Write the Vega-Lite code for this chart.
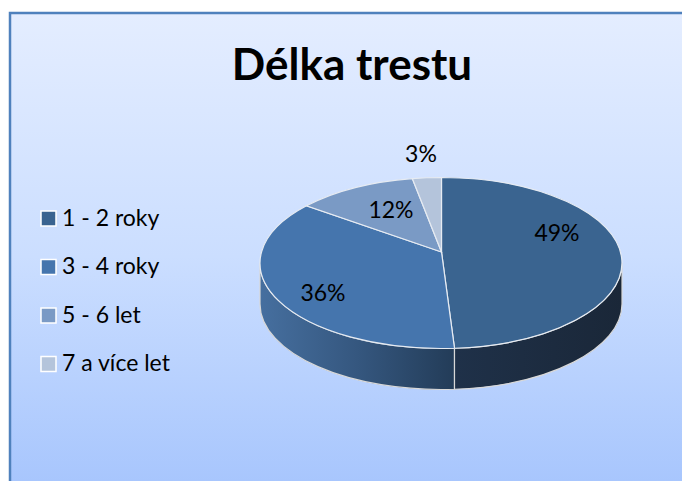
{
"$schema":"https://vega.github.io/schema/vega-lite/v6.json",
"width":682,"height":481,"padding":0,
"autosize":{"type":"fit","contains":"padding"},
"background":"white",
"config":{"view":{"stroke":null},"font":"Lato"},
"title":{"text":"Délka trestu","font":"Lato","fontWeight":"bold","fontSize":44,"color":"#000000","anchor":"middle","frame":"group","offset":-124,"baseline":"alphabetic","dx":11},
"data":{"values":[
{"kategorie":"1 - 2 roky","podil":49},
{"kategorie":"3 - 4 roky","podil":36},
{"kategorie":"5 - 6 let","podil":12},
{"kategorie":"7 a více let","podil":3}
]},
"resolve":{"scale":{"x":"independent","y":"independent"}},
"layer":[
{"data":{"values":[{}]},
 "mark":{"type":"rect","clip":true,"stroke":"#4f81bd","strokeWidth":2.5,"fill":{"gradient":"linear","x1":0,"y1":0,"x2":0,"y2":1,"stops":[{"offset":0,"color":"#e4edff"},{"offset":0.5,"color":"#cbdeff"},{"offset":1,"color":"#a5c4fd"}]}},
 "encoding":{
  "x":{"datum":10,"type":"quantitative","scale":{"domain":[0,682],"range":[0,682]},"axis":null},
  "x2":{"datum":720},
  "y":{"datum":13,"type":"quantitative","scale":{"domain":[0,481],"range":[0,481]},"axis":null},
  "y2":{"datum":500}}},
{"transform":[{"filter":"datum.kategorie === '3 - 4 roky'"}],
 "mark":{"type":"point","filled":true,"opacity":1,"size":4,"stroke":"#d8d8d8","strokeWidth":1.2,
  "shape":"M-181,0 A181,85.5 0 0 0 13.5,85.26 L13.5,126.26 A181,85.5 0 0 1 -181,41 Z",
  "fill":{"gradient":"linear","x1":0,"y1":0,"x2":1,"y2":0,"stops":[{"offset":0,"color":"#466f9f"},{"offset":0.5,"color":"#35577f"},{"offset":1,"color":"#233c58"}]}},
 "encoding":{
  "x":{"datum":441,"type":"quantitative","scale":{"domain":[0,682],"range":[0,682]},"axis":null},
  "y":{"datum":263,"type":"quantitative","scale":{"domain":[0,481],"range":[0,481]},"axis":null}}},
{"transform":[{"filter":"datum.kategorie === '1 - 2 roky'"}],
 "mark":{"type":"point","filled":true,"opacity":1,"size":4,"stroke":"#d8d8d8","strokeWidth":1.2,
  "shape":"M13.5,85.26 A181,85.5 0 0 0 181,0 L181,41 A181,85.5 0 0 1 13.5,126.26 Z",
  "fill":{"gradient":"linear","x1":0,"y1":0,"x2":1,"y2":0,"stops":[{"offset":0,"color":"#1f3149"},{"offset":1,"color":"#1a2738"}]}},
 "encoding":{
  "x":{"datum":441,"type":"quantitative","scale":{"domain":[0,682],"range":[0,682]},"axis":null},
  "y":{"datum":263,"type":"quantitative","scale":{"domain":[0,481],"range":[0,481]},"axis":null}}},
{"mark":{"type":"point","filled":true,"opacity":1,"size":4,"stroke":"#e6ebf2","strokeWidth":1.2},
 "encoding":{
  "x":{"datum":441,"type":"quantitative","scale":{"domain":[0,682],"range":[0,682]},"axis":null},
  "y":{"datum":263,"type":"quantitative","scale":{"domain":[0,481],"range":[0,481]},"axis":null},
  "shape":{"field":"podil","type":"nominal","legend":null,"scale":{"domain":[49,36,12,3],"range":[
   "M0.5,-11 L0.5,-85.5 A181,85.5 0 0 1 13.5,85.26 Z",
   "M0.5,-11 L13.5,85.26 A181,85.5 0 0 1 -134.5,-57.2 Z",
   "M0.5,-11 L-134.5,-57.2 A181,85.5 0 0 1 -28.7,-84.42 Z",
   "M0.5,-11 L-28.7,-84.42 A181,85.5 0 0 1 0.5,-85.5 Z"]}},
  "color":{"field":"kategorie","type":"nominal","sort":null,
   "scale":{"domain":["1 - 2 roky","3 - 4 roky","5 - 6 let","7 a více let"],"range":["#3a6490","#4575ad","#7a9ac5","#b4c4db"]},
   "legend":{"title":null,"orient":"none","legendX":37,"legendY":207,"symbolType":"square","symbolSize":225,"symbolOpacity":1,"symbolStrokeColor":"#ffffff","symbolStrokeWidth":1.5,"labelFont":"Lato","labelFontSize":23,"labelColor":"#000000","labelOffset":2,"rowPadding":24.5,"labelLimit":200}}}},
{"mark":{"type":"text","font":"Lato","fontSize":23,"color":"#000000","align":"center","baseline":"middle"},
 "transform":[{"calculate":"datum.podil + '%'","as":"popisek"}],
 "encoding":{
  "text":{"field":"popisek","type":"nominal"},
  "x":{"field":"podil","type":"quantitative","axis":null,"scale":{"domain":[3,12,36,49],"range":[421,391,323,557]}},
  "y":{"field":"podil","type":"quantitative","axis":null,"scale":{"domain":[3,12,36,49],"range":[155,211,294,234]}}}}
]}
